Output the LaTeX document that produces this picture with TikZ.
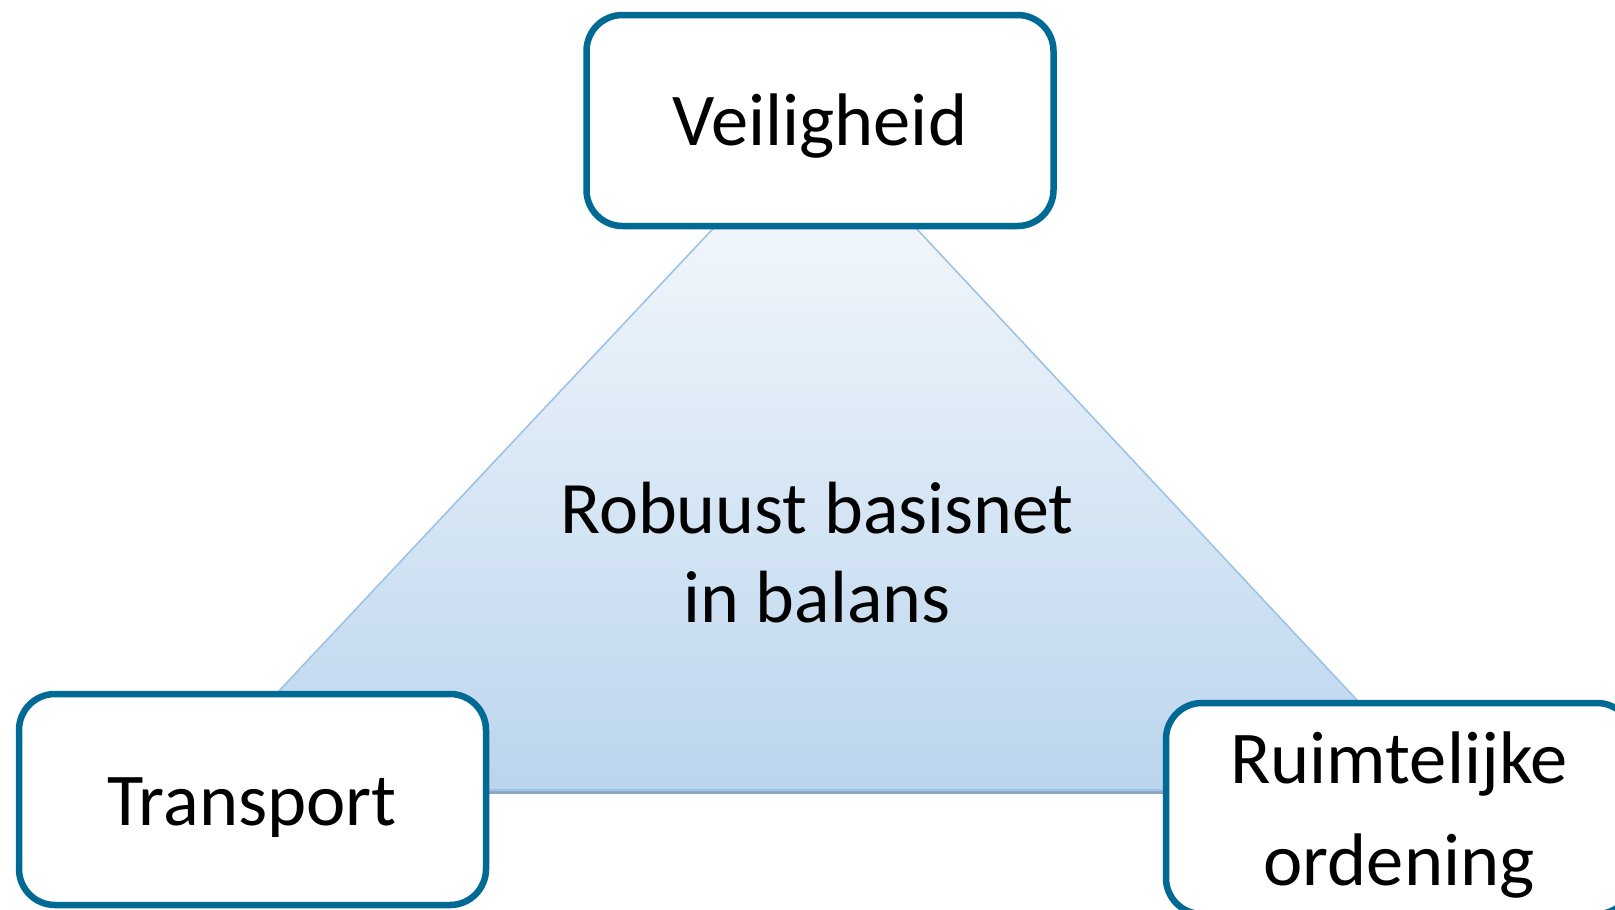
\documentclass[tikz,border=0pt]{standalone}
\usepackage{fontspec}
\setmainfont{Carlito}
\usetikzlibrary{calc}
\definecolor{boxline}{RGB}{0,106,148}
\definecolor{triedge}{RGB}{157,195,230}
\definecolor{tritop}{RGB}{250,252,254}
\definecolor{tribot}{RGB}{187,213,237}
\definecolor{tribase}{RGB}{143,168,192}
\tikzset{
  pillar/.style={draw=boxline, line width=6.5pt, rounded corners=36pt, fill=white,
    minimum width=467pt, minimum height=211pt, inner sep=0pt},
  boxtext/.style={align=center, inner sep=0pt, anchor=base,
    font=\fontsize{74.5}{102}\selectfont},
  centertext/.style={align=center, inner sep=0pt, anchor=base,
    font=\fontsize{74}{89}\selectfont}
}
\begin{document}
\begin{tikzpicture}[x=1pt,y=-1pt]
\useasboundingbox (0,0) rectangle (1615,910);
\clip (0,0) rectangle (1615,910);
\fill[white] (0,0) rectangle (1615,910);
% triangle
\coordinate (apex) at (815,120);
\coordinate (bl) at (186,790);
\coordinate (br) at (1441,790);
\draw[tribase, line width=6pt] ($(bl)+(0,1)$) -- ($(br)+(0,1)$);
\shade[top color=tritop, bottom color=tribot] (apex) -- (bl) -- (br) -- cycle;
\draw[triedge, line width=1.6pt, line join=round] (apex) -- (bl) -- (br) -- cycle;
% base anchor of a two-line node = baseline of its last line
\node[centertext] (mid) at (817,622) {Robuust basisnet\\in balans};
% boxes
\node[pillar] (veil) at (820,120.5) {};
\node[boxtext] (veiltext) at (820,145) {Veiligheid};
\node[pillar] (trans) at (252.5,799.5) {};
\node[boxtext] (transtext) at (252,825) {Transport};
\node[pillar] (ruimte) at (1399.5,808.5) {};
\node[boxtext] (ruimtetext) at (1399,885) {Ruimtelijke\\ordening};
\end{tikzpicture}
\end{document}
